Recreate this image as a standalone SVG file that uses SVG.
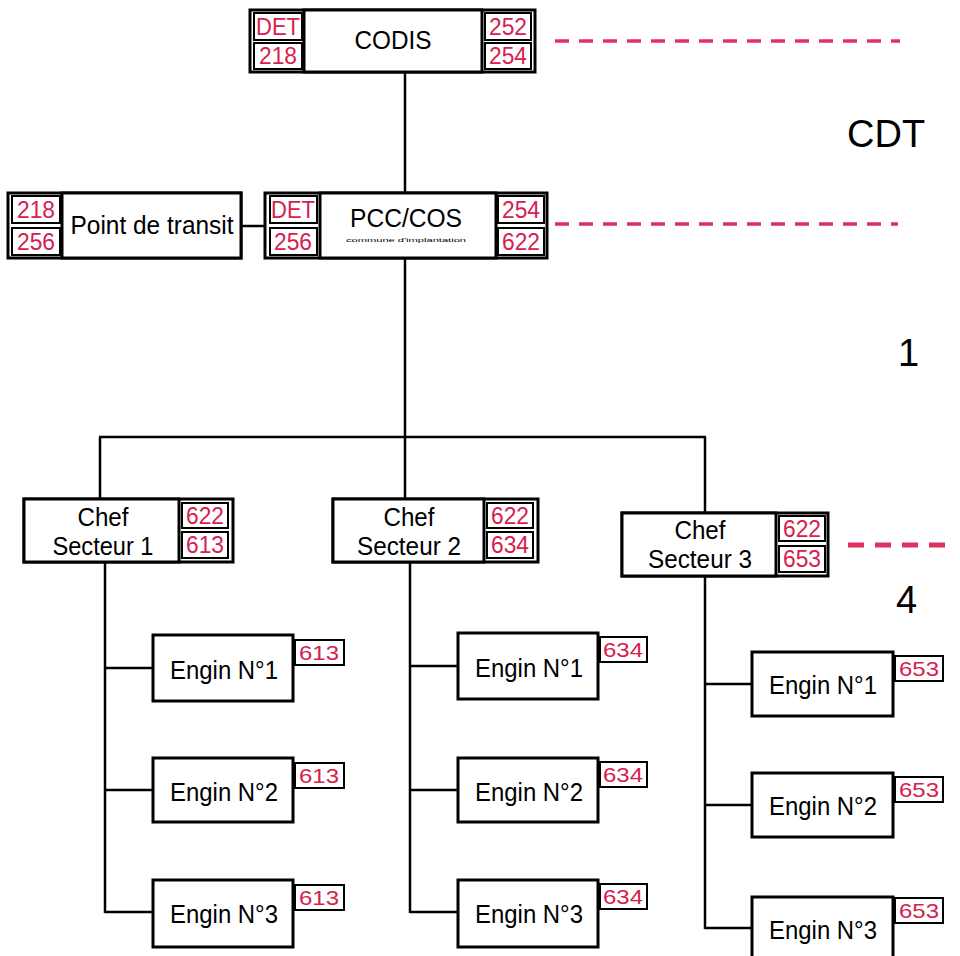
<svg xmlns="http://www.w3.org/2000/svg" width="960" height="956" viewBox="0 0 960 956">
<style>
.box{fill:#fff;stroke:#000;stroke-width:3}
.cell{fill:#fff;stroke:#000;stroke-width:2}
.t{font-family:"Liberation Sans",Arial,sans-serif;font-size:25px;fill:#000;text-anchor:middle}
.lbl{font-family:"Liberation Sans",Arial,sans-serif;font-size:23px;fill:#d6204e;text-anchor:middle}
.lbs{font-family:"Liberation Sans",Arial,sans-serif;font-size:21px;fill:#d6204e;text-anchor:middle}
.big{font-family:"Liberation Sans",Arial,sans-serif;font-size:38px;fill:#000}
.conn{stroke:#000;stroke-width:2.5;fill:none}
.dash{stroke:#e03060;stroke-width:3.5;stroke-dasharray:14 10;fill:none}
.dash2{stroke:#e03060;stroke-width:5;stroke-dasharray:16 11;fill:none}
</style>
<rect width="960" height="956" fill="#fff"/>
<g id="connectors">
<line class="conn" x1="405" y1="72" x2="405" y2="193"/>
<line class="conn" x1="241" y1="226" x2="265" y2="226"/>
<line class="conn" x1="405" y1="258" x2="405" y2="437"/>
<line class="conn" x1="99" y1="437" x2="706" y2="437"/>
<line class="conn" x1="100" y1="437" x2="100" y2="498"/>
<line class="conn" x1="405" y1="437" x2="405" y2="499"/>
<line class="conn" x1="705" y1="437" x2="705" y2="513"/>
<line class="conn" x1="105" y1="562" x2="105" y2="913"/>
<line class="conn" x1="105" y1="668" x2="153" y2="668"/>
<line class="conn" x1="105" y1="790" x2="153" y2="790"/>
<line class="conn" x1="105" y1="912" x2="153" y2="912"/>
<line class="conn" x1="410" y1="562" x2="410" y2="913"/>
<line class="conn" x1="410" y1="666" x2="458" y2="666"/>
<line class="conn" x1="410" y1="790" x2="458" y2="790"/>
<line class="conn" x1="410" y1="912" x2="458" y2="912"/>
<line class="conn" x1="705" y1="575" x2="705" y2="929"/>
<line class="conn" x1="705" y1="684" x2="752" y2="684"/>
<line class="conn" x1="705" y1="805" x2="752" y2="805"/>
<line class="conn" x1="705" y1="928" x2="752" y2="928"/>
</g>
<g id="levels">
<line class="dash" x1="555" y1="41" x2="900" y2="41"/>
<line class="dash" x1="555" y1="224" x2="898" y2="224"/>
<line class="dash2" x1="848" y1="545" x2="950" y2="545"/>
<text class="big" x="847" y="147">CDT</text>
<text class="big" x="898" y="366">1</text>
<text class="big" x="896" y="613">4</text>
</g>
<g id="codis">
<rect class="box" x="250" y="10" width="285" height="62"/>
<rect class="cell" x="254" y="13" width="48" height="27"/>
<rect class="cell" x="254" y="43" width="48" height="26"/>
<rect class="box" x="304" y="10" width="178" height="62"/>
<rect class="cell" x="485" y="13" width="46" height="27"/>
<rect class="cell" x="485" y="43" width="46" height="26"/>
<text class="lbl" x="278" y="35" textLength="44" lengthAdjust="spacingAndGlyphs">DET</text>
<text class="lbl" x="278" y="64" textLength="38" lengthAdjust="spacingAndGlyphs">218</text>
<text class="lbl" x="508" y="35" textLength="38" lengthAdjust="spacingAndGlyphs">252</text>
<text class="lbl" x="508" y="64" textLength="38" lengthAdjust="spacingAndGlyphs">254</text>
<text class="t" x="393" y="49" textLength="77" lengthAdjust="spacingAndGlyphs">CODIS</text>
</g>
<g id="point-transit">
<rect class="box" x="8" y="193" width="233" height="65"/>
<rect class="cell" x="12" y="196" width="48" height="27"/>
<rect class="cell" x="12" y="228" width="48" height="27"/>
<rect class="box" x="62" y="193" width="179" height="65"/>
<text class="lbl" x="36" y="218" textLength="38" lengthAdjust="spacingAndGlyphs">218</text>
<text class="lbl" x="36" y="250" textLength="38" lengthAdjust="spacingAndGlyphs">256</text>
<text class="t" x="152" y="234" textLength="163" lengthAdjust="spacingAndGlyphs">Point de transit</text>
</g>
<g id="pcc-cos">
<rect class="box" x="265" y="193" width="282" height="65"/>
<rect class="cell" x="270" y="196" width="47" height="27"/>
<rect class="cell" x="270" y="228" width="47" height="27"/>
<rect class="box" x="320" y="193" width="176" height="65"/>
<rect class="cell" x="498" y="196" width="46" height="27"/>
<rect class="cell" x="498" y="228" width="46" height="27"/>
<text class="lbl" x="293" y="218" textLength="44" lengthAdjust="spacingAndGlyphs">DET</text>
<text class="lbl" x="293" y="250" textLength="38" lengthAdjust="spacingAndGlyphs">256</text>
<text class="lbl" x="521" y="218" textLength="38" lengthAdjust="spacingAndGlyphs">254</text>
<text class="lbl" x="521" y="250" textLength="38" lengthAdjust="spacingAndGlyphs">622</text>
<text class="t" x="406" y="227" textLength="112" lengthAdjust="spacingAndGlyphs">PCC/COS</text>
<text x="406" y="242" font-family="Liberation Sans, Arial, sans-serif" font-size="6" text-anchor="middle" textLength="120" lengthAdjust="spacingAndGlyphs">commune d'implantation</text>
</g>
<g id="chef1">
<rect class="box" x="24" y="499" width="209" height="63"/>
<rect class="cell" x="182" y="503" width="46" height="25"/>
<rect class="cell" x="182" y="532" width="46" height="26"/>
<rect class="box" x="24" y="499" width="155" height="63"/>
<text class="t" x="103" y="526" textLength="51" lengthAdjust="spacingAndGlyphs">Chef</text>
<text class="t" x="103" y="555" textLength="101" lengthAdjust="spacingAndGlyphs">Secteur 1</text>
<text class="lbl" x="205" y="524" textLength="38" lengthAdjust="spacingAndGlyphs">622</text>
<text class="lbl" x="205" y="553" textLength="38" lengthAdjust="spacingAndGlyphs">613</text>
</g>
<g id="chef2">
<rect class="box" x="333" y="499" width="205" height="63"/>
<rect class="cell" x="487" y="503" width="46" height="25"/>
<rect class="cell" x="487" y="532" width="46" height="26"/>
<rect class="box" x="333" y="499" width="151" height="63"/>
<text class="t" x="409" y="526" textLength="51" lengthAdjust="spacingAndGlyphs">Chef</text>
<text class="t" x="409" y="555" textLength="104" lengthAdjust="spacingAndGlyphs">Secteur 2</text>
<text class="lbl" x="510" y="524" textLength="38" lengthAdjust="spacingAndGlyphs">622</text>
<text class="lbl" x="510" y="553" textLength="38" lengthAdjust="spacingAndGlyphs">634</text>
</g>
<g id="chef3">
<rect class="box" x="622" y="513" width="206" height="63"/>
<rect class="cell" x="779" y="516" width="46" height="25"/>
<rect class="cell" x="779" y="546" width="46" height="26"/>
<rect class="box" x="622" y="513" width="154" height="63"/>
<text class="t" x="700" y="539" textLength="51" lengthAdjust="spacingAndGlyphs">Chef</text>
<text class="t" x="700" y="568" textLength="104" lengthAdjust="spacingAndGlyphs">Secteur 3</text>
<text class="lbl" x="802" y="537" textLength="38" lengthAdjust="spacingAndGlyphs">622</text>
<text class="lbl" x="802" y="567" textLength="38" lengthAdjust="spacingAndGlyphs">653</text>
</g>
<g id="s1-engin1">
<rect class="box" x="153" y="635" width="140" height="66"/>
<rect class="cell" x="295" y="640" width="49" height="25"/>
<text class="t" x="224" y="679" textLength="108" lengthAdjust="spacingAndGlyphs">Engin N°1</text>
<text class="lbs" x="319" y="660" textLength="40" lengthAdjust="spacingAndGlyphs">613</text>
</g>
<g id="s1-engin2">
<rect class="box" x="153" y="758" width="140" height="64"/>
<rect class="cell" x="295" y="763" width="49" height="25"/>
<text class="t" x="224" y="801" textLength="108" lengthAdjust="spacingAndGlyphs">Engin N°2</text>
<text class="lbs" x="319" y="783" textLength="40" lengthAdjust="spacingAndGlyphs">613</text>
</g>
<g id="s1-engin3">
<rect class="box" x="153" y="880" width="140" height="67"/>
<rect class="cell" x="295" y="885" width="49" height="25"/>
<text class="t" x="224" y="923" textLength="108" lengthAdjust="spacingAndGlyphs">Engin N°3</text>
<text class="lbs" x="319" y="905" textLength="40" lengthAdjust="spacingAndGlyphs">613</text>
</g>
<g id="s2-engin1">
<rect class="box" x="458" y="633" width="140" height="66"/>
<rect class="cell" x="600" y="637" width="47" height="25"/>
<text class="t" x="529" y="677" textLength="108" lengthAdjust="spacingAndGlyphs">Engin N°1</text>
<text class="lbs" x="623" y="657" textLength="40" lengthAdjust="spacingAndGlyphs">634</text>
</g>
<g id="s2-engin2">
<rect class="box" x="458" y="758" width="140" height="64"/>
<rect class="cell" x="600" y="762" width="47" height="25"/>
<text class="t" x="529" y="801" textLength="108" lengthAdjust="spacingAndGlyphs">Engin N°2</text>
<text class="lbs" x="623" y="782" textLength="40" lengthAdjust="spacingAndGlyphs">634</text>
</g>
<g id="s2-engin3">
<rect class="box" x="458" y="880" width="140" height="67"/>
<rect class="cell" x="600" y="884" width="47" height="25"/>
<text class="t" x="529" y="923" textLength="108" lengthAdjust="spacingAndGlyphs">Engin N°3</text>
<text class="lbs" x="623" y="904" textLength="40" lengthAdjust="spacingAndGlyphs">634</text>
</g>
<g id="s3-engin1">
<rect class="box" x="752" y="652" width="141" height="64"/>
<rect class="cell" x="895" y="656" width="48" height="25"/>
<text class="t" x="823" y="694" textLength="108" lengthAdjust="spacingAndGlyphs">Engin N°1</text>
<text class="lbs" x="919" y="676" textLength="40" lengthAdjust="spacingAndGlyphs">653</text>
</g>
<g id="s3-engin2">
<rect class="box" x="752" y="773" width="141" height="64"/>
<rect class="cell" x="895" y="777" width="48" height="25"/>
<text class="t" x="823" y="815" textLength="108" lengthAdjust="spacingAndGlyphs">Engin N°2</text>
<text class="lbs" x="919" y="797" textLength="40" lengthAdjust="spacingAndGlyphs">653</text>
</g>
<g id="s3-engin3">
<rect class="box" x="752" y="897" width="141" height="70"/>
<rect class="cell" x="895" y="898" width="48" height="25"/>
<text class="t" x="823" y="939" textLength="108" lengthAdjust="spacingAndGlyphs">Engin N°3</text>
<text class="lbs" x="919" y="918" textLength="40" lengthAdjust="spacingAndGlyphs">653</text>
</g>
</svg>
